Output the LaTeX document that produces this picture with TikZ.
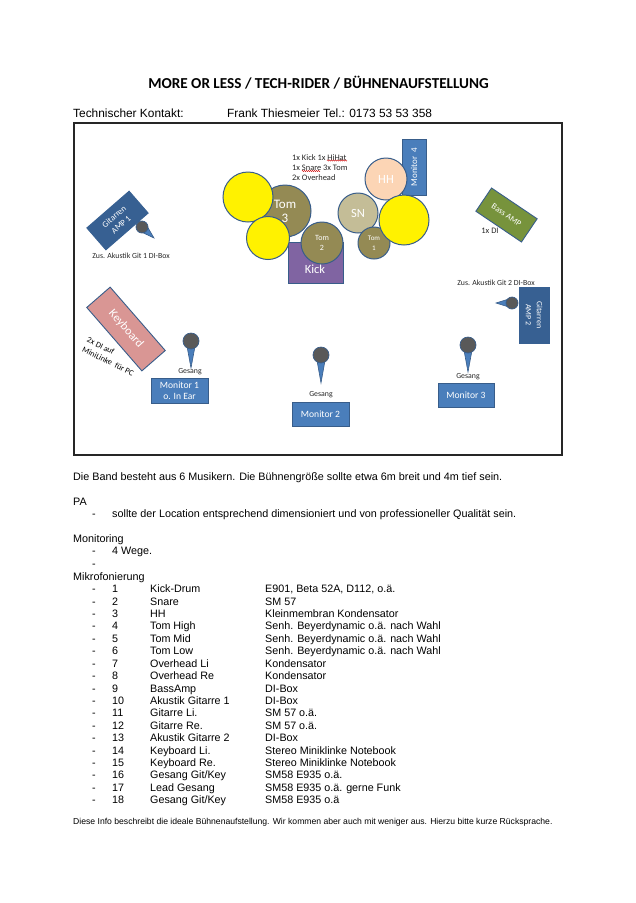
\documentclass[tikz,border=0pt]{standalone}
\usepackage{fontspec}
\setmainfont{Liberation Sans}
\newfontfamily\calfont{Carlito}
\usetikzlibrary{calc,decorations.pathmorphing}
\definecolor{drumb}{HTML}{948A54}
\definecolor{edge}{HTML}{385D8A}
\definecolor{monb}{HTML}{4A7EBB}
\definecolor{ampb}{HTML}{376092}
\definecolor{kickf}{HTML}{8064A2}
\definecolor{snf}{HTML}{C4BD97}
\definecolor{hhf}{HTML}{FCD5B5}
\definecolor{bassf}{HTML}{77933C}
\definecolor{keyf}{HTML}{D99694}
\definecolor{micg}{HTML}{595959}
\newcommand{\cf}[2]{\calfont\fontsize{#1}{#2}\selectfont}
\tikzset{
 x=1pt,y=-1pt,
 drum/.style={circle,draw=edge,line width=1pt,inner sep=0pt,text=white,align=center},
 ydrum/.style={drum,fill=yellow},
 bdrum/.style={drum,fill=drumb},
 box/.style={draw=edge,line width=.9pt,text=white,align=center,inner sep=0pt,anchor=center},
 amp/.style={box,fill=ampb,draw=ampb},
 mon/.style={box,fill=monb,font=\cf{9.6}{10.7}},
 small/.style={font=\cf{7.8}{9},text=black!85,inner sep=0pt},
 micbody/.style={fill=monb,draw=edge,line width=.6pt},
 michead/.style={circle,fill=micg,draw=edge,line width=.7pt,inner sep=0pt},
 line/.style={anchor=base west,inner sep=0pt,font=\fontsize{10.8}{12}\selectfont},
 list/.style={anchor=base west,inner sep=0pt,font=\fontsize{10.75}{11}\selectfont},
 frame/.style={draw=black!85,line width=1.4pt},
 squiggle/.style={draw=red!80!black,line width=.35pt,decorate,decoration={zigzag,amplitude=.6pt,segment length=2pt}}
}
\pgfdeclarelayer{background}
\pgfsetlayers{background,main}
\newcommand{\micfig}[6]{% name, head x, head y, tip x, tip y, head size
 \node[michead,minimum size=#6] (#1h) at (#2,#3) {};
 \coordinate (#1t) at (#4,#5);
 \begin{pgfonlayer}{background}
 \draw[micbody] ($(#1h)!5pt!90:(#1t)$) -- (#1t) -- ($(#1h)!5pt!-90:(#1t)$) -- cycle;
 \end{pgfonlayer}
}
\begin{document}
\begin{tikzpicture}
\useasboundingbox (0,0) rectangle (636,903);
\begin{pgfonlayer}{background}
\fill[white] (0,0) rectangle (636,903);
\end{pgfonlayer}
\node[font=\calfont\bfseries\fontsize{15.2}{17}\selectfont,inner sep=0pt] (title) at (318.5,83) {MORE OR LESS / TECH-RIDER / BÜHNENAUFSTELLUNG};
\node[line,font=\fontsize{11.9}{13}\selectfont] (kontakt) at (73,117) {Technischer Kontakt:};
\node[line,font=\fontsize{11.9}{13}\selectfont] (frank) at (227,117) {Frank Thiesmeier Tel.: 0173 53 53 358};
\node[frame,minimum width=488pt,minimum height=332pt,inner sep=0pt] (stage) at (318,289) {};
% drums
\node[box,fill=monb,minimum width=24pt,minimum height=56pt,font=\cf{9}{10}] (m4) at (414,167) {\rotatebox{90}{Monitor\ \ 4}};
\node[box,fill=kickf,minimum width=55pt,minimum height=41pt] (kick) at (315.5,262.5) {};
\node[font=\cf{12.5}{13},text=white,inner sep=0pt] (kicklbl) at (315,269.5) {Kick};
\node[bdrum,minimum size=52pt,font=\cf{13}{14}] (tom3) at (285,211) {Tom\\3};
\node[ydrum,minimum size=50pt] (y1) at (248,197) {};
\node[ydrum,minimum size=43pt] (y2) at (268,238) {};
\node[bdrum,minimum size=42pt,font=\cf{8}{10}] (tom2) at (322,243) {Tom\\2};
\node[drum,fill=snf,minimum size=40pt,font=\cf{12.5}{13}] (sn) at (358,213) {SN};
\node[bdrum,minimum size=32pt,font=\cf{7}{9.5}] (tom1) at (374,243) {Tom\\1};
\node[drum,fill=hhf,minimum size=42pt,font=\cf{12.5}{13}] (hh) at (386,179) {HH};
\node[ydrum,minimum size=50pt] (y3) at (404,220) {};
\node[font=\cf{8.4}{10.2},anchor=north west,inner sep=0pt,align=left,text=black!85] (drumtxt) at (292,154) {1x Kick 1x HiHat\\1x Snare 3x Tom\\2x Overhead};
\draw[squiggle] (327,160.5) -- (347,160.5);
\draw[squiggle] (302,171) -- (320,171);
% amps
\node[amp,minimum width=56pt,minimum height=29pt,rotate=41,font=\cf{8.5}{10.5}] (amp1) at (117.5,220.5) {Gitarren\\AMP 1};
\micfig{ma}{142}{227}{154}{238}{12pt}
\node[small] (zus1) at (131,256) {Zus. Akustik Git 1 DI-Box};
\node[box,fill=bassf,minimum width=55pt,minimum height=28pt,rotate=-34,font=\cf{8.5}{10}] (bass) at (506.5,215) {Bass AMP};
\node[small,font=\cf{8.4}{9}] (di) at (490,231) {1x DI};
\node[small] (zus2) at (496,283) {Zus. Akustik Git 2 DI-Box};
\node[amp,minimum width=56pt,minimum height=30pt,rotate=-90,font=\cf{8}{11}] (amp2) at (534,315) {Gitarren\\AMP 2};
\micfig{mb}{512}{303}{496}{303}{12pt}
% keyboard
\node[box,fill=keyf,minimum width=84pt,minimum height=31pt,rotate=-49,font=\cf{12}{13}] (key) at (126,329) {Keyboard};
\node[font=\cf{8.2}{10.7},rotate=-26,align=left,inner sep=0pt] (dipc) at (110.5,356.5) {2x DI auf\\MiniLinke\ \ für PC};
% monitors
\micfig{mc}{191}{341}{191}{368}{16pt}
\node[small] (g1) at (190,372) {Gesang};
\node[mon,minimum width=57pt,minimum height=25pt] (m1) at (179.5,390.5) {Monitor 1\\o. In Ear};
\micfig{md}{321}{355}{321}{383}{16pt}
\node[small] (g2) at (321,395) {Gesang};
\node[mon,minimum width=57pt,minimum height=24pt] (m2) at (320.5,414) {Monitor 2};
\micfig{me}{468}{345}{468}{372}{16pt}
\node[small] (g3) at (468,377) {Gesang};
\node[mon,minimum width=56pt,minimum height=24pt] (m3) at (466,395) {Monitor 3};
% text
\node[line] (t1) at (73,480) {Die Band besteht aus 6 Musikern. Die Bühnengröße sollte etwa 6m breit und 4m tief sein.};
\node[line] (pa) at (73,505) {PA};
\node[line] (pad) at (92,517) {-};
\node[line] (pat) at (112,517) {sollte der Location entsprechend dimensioniert und von professioneller Qualität sein.};
\node[line] (mon) at (73,542) {Monitoring};
\node[line] (md1) at (92,554) {-};
\node[line] (mt1) at (112,554) {4 Wege.};
\node[line] (md2) at (92,567) {-};
\node[line] (mik) at (73,580) {Mikrofonierung};
\foreach \i/\y/\n/\m in {
1/592/Kick-Drum/{E901, Beta 52A, D112, o.ä.},
2/605/Snare/SM 57,
3/617/HH/Kleinmembran Kondensator,
4/629/Tom High/{Senh. Beyerdynamic o.ä. nach Wahl},
5/642/Tom Mid/{Senh. Beyerdynamic o.ä. nach Wahl},
6/654/Tom Low/{Senh. Beyerdynamic o.ä. nach Wahl},
7/667/Overhead Li/Kondensator,
8/679/Overhead Re/Kondensator,
9/692/BassAmp/DI-Box,
10/704/Akustik Gitarre 1/DI-Box,
11/716/Gitarre Li./SM 57 o.ä.,
12/729/Gitarre Re./SM 57 o.ä.,
13/741/Akustik Gitarre 2/DI-Box,
14/754/Keyboard Li./Stereo Miniklinke Notebook,
15/766/Keyboard Re./Stereo Miniklinke Notebook,
16/778/Gesang Git\slash Key/SM58 E935 o.ä.,
17/791/Lead Gesang/{SM58 E935 o.ä. gerne Funk},
18/803/Gesang Git\slash Key/SM58 E935 o.ä}{
 \node[list] (d\i) at (92,\y) {-};
 \node[list] (n\i) at (112,\y) {\i};
 \node[list] (a\i) at (150,\y) {\n};
 \node[list] (b\i) at (265,\y) {\m};
}
\node[anchor=base west,inner sep=0pt,font=\fontsize{8.62}{10}\selectfont] (foot) at (73,824) {Diese Info beschreibt die ideale Bühnenaufstellung. Wir kommen aber auch mit weniger aus. Hierzu bitte kurze Rücksprache.};
\end{tikzpicture}
\end{document}
